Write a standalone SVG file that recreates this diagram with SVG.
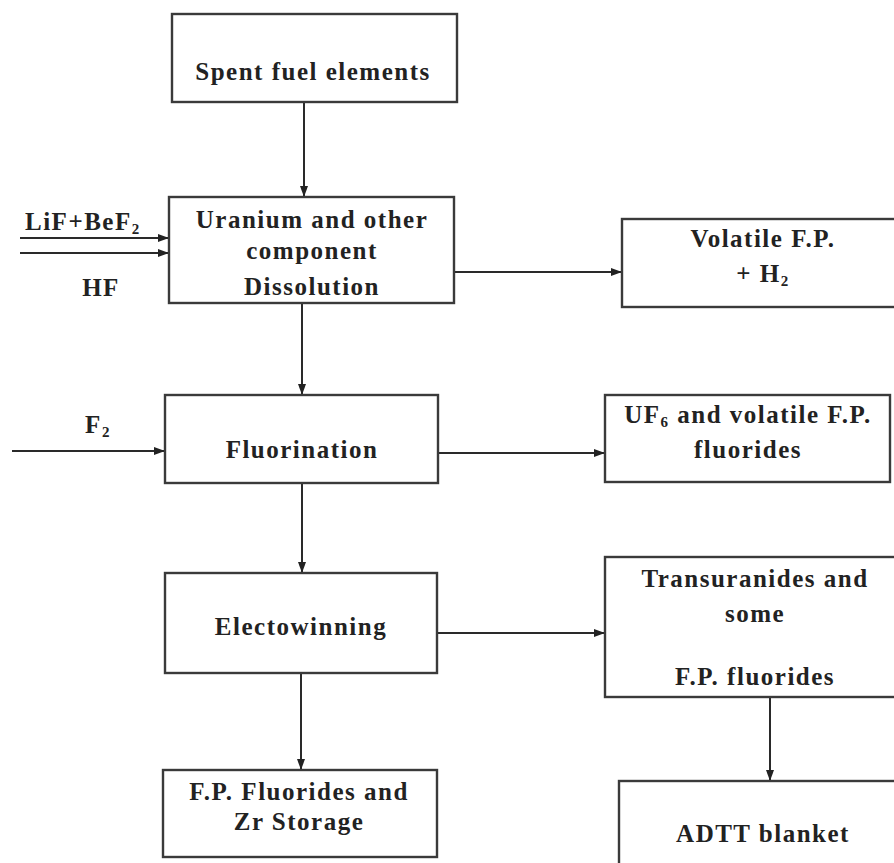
<svg xmlns="http://www.w3.org/2000/svg" width="894" height="863" viewBox="0 0 894 863">
  <defs>
    <marker id="arrow" markerWidth="11" markerHeight="8" refX="11" refY="4" orient="auto" markerUnits="userSpaceOnUse">
      <path d="M0,0 L11,4 L0,8 z" fill="#222"/>
    </marker>
    <style>
      .box { fill: #ffffff; stroke: #3a3a3a; stroke-width: 2.4; }
      .lbl { font-weight: bold; font-size: 25px; fill: #222; letter-spacing: 1.5px; }
      .mid { text-anchor: middle; }
      .sub { font-size: 15px; }
      .conn line { stroke: #2a2a2a; stroke-width: 2; marker-end: url(#arrow); }
    </style>
  </defs>
  <rect width="894" height="863" fill="#ffffff"/>

  <!-- connectors -->
  <g id="connectors" class="conn">
    <line x1="304" y1="102" x2="304" y2="197"/>
    <line x1="20" y1="238" x2="169" y2="238"/>
    <line x1="20" y1="253" x2="169" y2="253"/>
    <line x1="454" y1="272" x2="622" y2="272"/>
    <line x1="302" y1="304" x2="302" y2="395"/>
    <line x1="12" y1="451" x2="165" y2="451"/>
    <line x1="438" y1="453" x2="605" y2="453"/>
    <line x1="302" y1="483" x2="302" y2="573"/>
    <line x1="437" y1="633" x2="605" y2="633"/>
    <line x1="301" y1="673" x2="301" y2="770"/>
    <line x1="770" y1="697" x2="770" y2="781"/>
  </g>

  <g font-family="'Liberation Serif', 'DejaVu Serif', serif">
    <!-- feed labels -->
    <g id="feed-libef2">
      <text class="lbl" x="25" y="230">LiF+BeF<tspan class="sub" dy="4">2</tspan></text>
    </g>
    <g id="feed-hf">
      <text class="lbl mid" x="101" y="296">HF</text>
    </g>
    <g id="feed-f2">
      <text class="lbl mid" x="98" y="433">F<tspan class="sub" dy="4">2</tspan></text>
    </g>

    <!-- process nodes -->
    <g id="spent-fuel">
      <rect class="box" x="172" y="14" width="285" height="88"/>
      <text class="lbl mid" x="313" y="80">Spent fuel elements</text>
    </g>

    <g id="dissolution">
      <rect class="box" x="169" y="197" width="285" height="106"/>
      <text class="lbl mid" x="312" y="228">Uranium and other</text>
      <text class="lbl mid" x="312" y="259">component</text>
      <text class="lbl mid" x="312" y="295">Dissolution</text>
    </g>

    <g id="volatile-fp">
      <rect class="box" x="622" y="219" width="290" height="88"/>
      <text class="lbl mid" x="763" y="247">Volatile F.P.</text>
      <text class="lbl mid" x="763" y="282">+ H<tspan class="sub" dy="4">2</tspan></text>
    </g>

    <g id="fluorination">
      <rect class="box" x="165" y="395" width="273" height="88"/>
      <text class="lbl mid" x="302" y="458">Fluorination</text>
    </g>

    <g id="uf6">
      <rect class="box" x="605" y="395" width="285" height="87"/>
      <text class="lbl mid" x="748" y="423">UF<tspan class="sub" dy="4">6</tspan><tspan dy="-4"> and volatile F.P.</tspan></text>
      <text class="lbl mid" x="748" y="458">fluorides</text>
    </g>

    <g id="electrowinning">
      <rect class="box" x="165" y="573" width="272" height="100"/>
      <text class="lbl mid" x="301" y="635">Electowinning</text>
    </g>

    <g id="transuranides">
      <rect class="box" x="605" y="557" width="300" height="140"/>
      <text class="lbl mid" x="755" y="587">Transuranides and</text>
      <text class="lbl mid" x="755" y="622">some</text>
      <text class="lbl mid" x="755" y="685">F.P. fluorides</text>
    </g>

    <g id="fp-storage">
      <rect class="box" x="163" y="770" width="274" height="87"/>
      <text class="lbl mid" x="299" y="800">F.P. Fluorides and</text>
      <text class="lbl mid" x="299" y="830">Zr Storage</text>
    </g>

    <g id="adtt-blanket">
      <rect class="box" x="619" y="781" width="300" height="100"/>
      <text class="lbl mid" x="763" y="842">ADTT blanket</text>
    </g>
  </g>
</svg>
